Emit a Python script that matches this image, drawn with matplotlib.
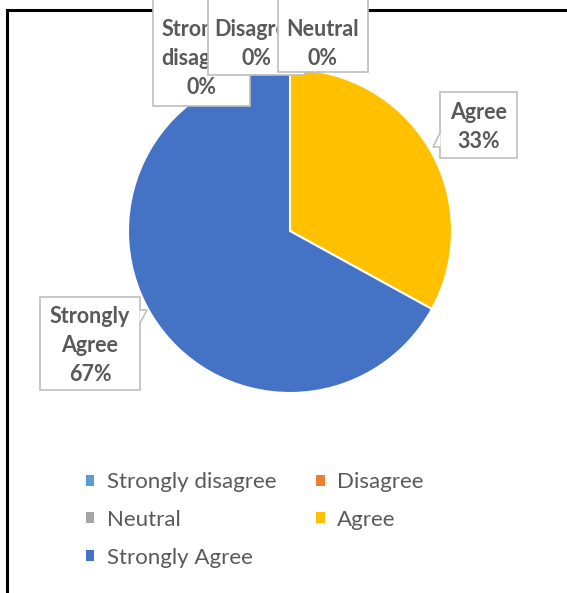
import matplotlib.pyplot as plt
from matplotlib.patches import Rectangle, Polygon
from matplotlib.lines import Line2D

# survey answers (share of responses)
categories = ["Strongly disagree", "Disagree", "Neutral", "Agree", "Strongly Agree"]
values = [0, 0, 0, 33, 67]
colors = ["#5B9BD5", "#ED7D31", "#A5A5A5", "#FFC000", "#4472C4"]
label_text = ["Strongly\ndisagree\n0%", "Disagree\n0%", "Neutral\n0%", "Agree\n33%", "Strongly\nAgree\n67%"]

W, H = 567, 593
fig = plt.figure(figsize=(W / 100, H / 100), dpi=100)
txt = "#595959"
font = "Lato"


def fx(x):
    return x / W


def fy(y):
    return 1 - y / H


# pie: centre (290, 231) px, radius 162 px
cx, cy, r = 290, 231, 162
ax = fig.add_axes([fx(cx - r), fy(cy + r), 2 * r / W, 2 * r / H])
wedges, _ = ax.pie(values, colors=colors, startangle=90, counterclock=False,
                   wedgeprops=dict(edgecolor="white", linewidth=1.5))
ax.set_xlim(-1, 1)
ax.set_ylim(-1, 1)
ax.set_aspect("auto")

# callout boxes (left, top, right, bottom in px) -- drawn in order so later ones cover earlier
boxes = [(153, -5, 250, 106), (208, -5, 305, 75), (278, -5, 368, 72),
         (440, 92, 517, 158), (40, 297, 140, 390)]
z = 5
for (l, t, rr, b), s in zip(boxes, label_text):
    rect = Rectangle((fx(l), fy(b)), (rr - l) / W, (b - t) / H,
                     transform=fig.transFigure, facecolor="white",
                     edgecolor="#BFBFBF", linewidth=1.2, zorder=z)
    fig.add_artist(rect)
    nlines = s.count("\n") + 1
    if t < 0:
        tcy = 29 + (nlines - 1) * 29.5 / 2
    else:
        tcy = (t + b) / 2 + 2
    lab = fig.text(fx((l + rr) / 2), fy(tcy), s, ha="center", va="center",
                   fontsize=15.5, fontweight="bold", color=txt, family=font,
                   linespacing=1.47, zorder=z + 0.5)
    lab.set_clip_path(rect)
    z += 1

# little callout pointers
fig.add_artist(Polygon([(fx(440.5), fy(132)), (fx(433), fy(147)), (fx(440.5), fy(147))],
                       closed=False, transform=fig.transFigure, facecolor="white",
                       edgecolor="#BFBFBF", linewidth=1.2, zorder=z))
fig.add_artist(Polygon([(fx(139.5), fy(310)), (fx(147), fy(310)), (fx(139.5), fy(324))],
                       closed=False, transform=fig.transFigure, facecolor="white",
                       edgecolor="#BFBFBF", linewidth=1.2, zorder=z))

# legend, filled row by row
order = [0, 2, 4, 1, 3]
leg = fig.legend([wedges[i] for i in order], [categories[i] for i in order],
                 loc="upper left", bbox_to_anchor=(fx(86), fy(472)), ncol=2,
                 frameon=False, borderpad=0, borderaxespad=0,
                 handlelength=0.38, handleheight=0.38, handletextpad=0.55,
                 columnspacing=1.8, labelspacing=0.8,
                 prop=dict(family=font, size=16))
for t in leg.get_texts():
    t.set_color(txt)
for h in leg.legend_handles:
    h.set_edgecolor("none")

# black frame on the top and left
fig.add_artist(Line2D([fx(6.5), 1], [fy(10), fy(10)], transform=fig.transFigure,
                      color="black", linewidth=2.2))
fig.add_artist(Line2D([fx(6.5), fx(6.5)], [0, fy(10)], transform=fig.transFigure,
                      color="black", linewidth=2.2))

fig.savefig("out.png", dpi=100)
